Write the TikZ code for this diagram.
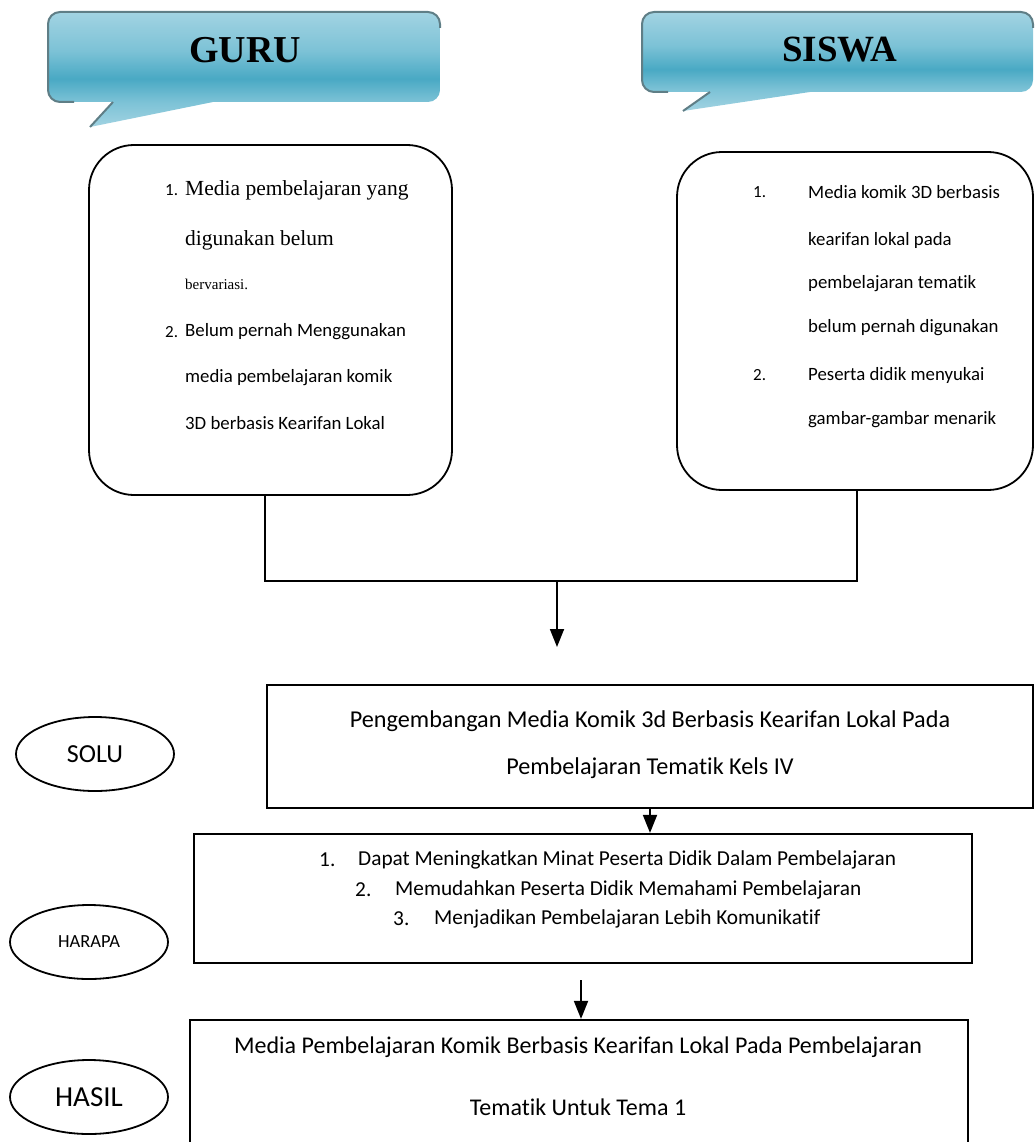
\documentclass[tikz,border=0pt]{standalone}
\usepackage{fontspec}
\setmainfont{Carlito}[Ligatures=NoCommon]
\newfontfamily\tnr{Liberation Serif}
\usetikzlibrary{shapes.geometric,arrows.meta}

\newcommand\fsz[1]{\fontsize{#1}{#1}\selectfont}

\definecolor{bubbletop}{HTML}{A2D3E2}
\definecolor{bubblemid}{HTML}{7CC2D6}
\definecolor{bubbledark}{HTML}{49A9C4}
\definecolor{bubbleedge}{HTML}{5F7E86}
\pgfdeclareverticalshading{bubblefade}{100bp}{color(0bp)=(bubbletop); color(25bp)=(bubbletop); color(36bp)=(bubblemid); color(46bp)=(bubbledark); color(58bp)=(bubblemid); color(75bp)=(bubbletop); color(100bp)=(bubbletop)}

\tikzset{
  bubble/.style={shading=bubblefade},
  bubbleline/.style={draw=bubbleedge, line width=2pt},
  box/.style={draw, line width=2.2pt, rectangle, inner sep=0pt},
  roundbox/.style={box, line width=1.8pt, rounded corners=45pt},
  oval/.style={draw, line width=1.8pt, ellipse, minimum width=158pt, minimum height=74pt, inner sep=0pt},
  link/.style={line width=1.8pt},
  arr/.style={link, -{Triangle[width=14pt,length=18pt]}},
  item/.style={anchor=west, inner sep=0pt, font=\fsz{18.8}},
  line/.style={inner sep=0pt},
}

\begin{document}
\begin{tikzpicture}[x=1pt,y=-1pt]
\useasboundingbox (0,0) rectangle (1035,1142);

% speech bubbles
\shade[bubble] (60,12) -- (428,12) arc[start angle=-90,end angle=0,radius=12] -- (440,90)
  arc[start angle=0,end angle=90,radius=12] -- (213,102) -- (90,127) -- (113,102) -- (60,102)
  arc[start angle=90,end angle=180,radius=12] -- (48,24) arc[start angle=180,end angle=270,radius=12] -- cycle;
\draw[bubbleline] (74,102) -- (60,102) arc[start angle=90,end angle=180,radius=12] -- (48,24)
  arc[start angle=180,end angle=270,radius=12] -- (428,12) arc[start angle=-90,end angle=0,radius=12] -- (440,28);
\draw[bubbleline] (113,102) -- (90,127);
\node[font=\tnr\bfseries\fsz{38}] (guru) at (245,50) {GURU};

\shade[bubble] (654,12) -- (1021,12) arc[start angle=-90,end angle=0,radius=12] -- (1033,80)
  arc[start angle=0,end angle=90,radius=12] -- (810,92) -- (683,111) -- (710,92) -- (654,92)
  arc[start angle=90,end angle=180,radius=12] -- (642,24) arc[start angle=180,end angle=270,radius=12] -- cycle;
\draw[bubbleline] (668,92) -- (654,92) arc[start angle=90,end angle=180,radius=12] -- (642,24)
  arc[start angle=180,end angle=270,radius=12] -- (1021,12) arc[start angle=-90,end angle=0,radius=12] -- (1033,28);
\draw[bubbleline] (710,92) -- (683,111);
\node[font=\tnr\bfseries\fsz{37}] (siswa) at (840,50) {SISWA};

% boxes
\node[roundbox, minimum width=363pt, minimum height=350pt] (guruBox) at (270.5,320) {};
\node[roundbox, minimum width=356pt, minimum height=338pt] (siswaBox) at (855,321) {};
\node[box, minimum width=766pt, minimum height=123pt] (solusiBox) at (650,746.5) {};
\node[box, minimum width=778pt, minimum height=129pt] (harapanBox) at (583,898.5) {};
\node[box, minimum width=778pt, minimum height=150pt] (hasilBox) at (579,1095) {};

% guru list
\node[item, font=\fsz{17}] (g1) at (165,190) {1.};
\node[item, font=\tnr\fsz{21.5}] (g1a) at (185,190) {Media pembelajaran yang};
\node[item, font=\tnr\fsz{21.5}] (g1b) at (185,240) {digunakan belum};
\node[item, font=\tnr\fsz{15}] (g1c) at (185,284) {bervariasi.};
\node[item, font=\fsz{17}] (g2) at (165,332) {2.};
\node[item] (g2a) at (185,332) {Belum pernah Menggunakan};
\node[item] (g2b) at (185,378) {media pembelajaran komik};
\node[item] (g2c) at (185,423) {3D berbasis Kearifan Lokal};

% siswa list
\node[item, font=\fsz{17}] (s1) at (753,192) {1.};
\node[item] (s1a) at (808,192) {Media komik 3D berbasis};
\node[item] (s1b) at (808,240) {kearifan lokal pada};
\node[item] (s1c) at (808,284) {pembelajaran tematik};
\node[item] (s1d) at (808,328) {belum pernah digunakan};
\node[item, font=\fsz{17}] (s2) at (753,375) {2.};
\node[item] (s2a) at (808,375) {Peserta didik menyukai};
\node[item] (s2b) at (808,420) {gambar-gambar menarik};

% solusi
\node[line, font=\fsz{24.2}] (sol1) at (650,721) {Pengembangan Media Komik 3d Berbasis Kearifan Lokal Pada};
\node[line, font=\fsz{24.2}] (sol2) at (650,768) {Pembelajaran Tematik Kels IV};

% harapan
\node[item, font=\fsz{21.3}] (h1) at (319,860) {1.};
\node[item, font=\fsz{21.3}] (h1a) at (358,860) {Dapat Meningkatkan Minat Peserta Didik Dalam Pembelajaran};
\node[item, font=\fsz{21.3}] (h2) at (355,890) {2.};
\node[item, font=\fsz{21.3}] (h2a) at (395,890) {Memudahkan Peserta Didik Memahami Pembelajaran};
\node[item, font=\fsz{21.3}] (h3) at (393,919) {3.};
\node[item, font=\fsz{21.3}] (h3a) at (434,919) {Menjadikan Pembelajaran Lebih Komunikatif};

% hasil
\node[line, font=\fsz{24}] (has1) at (578,1047) {Media Pembelajaran Komik Berbasis Kearifan Lokal Pada Pembelajaran};
\node[line, font=\fsz{24}] (has2) at (578,1107) {Tematik Untuk Tema 1};

% side labels
\node[oval, font=\fsz{26}] (solu) at (95,754) {SOLU};
\node[oval, font=\fsz{18.5}] (harapa) at (89,942) {HARAPA};
\node[oval, font=\fsz{29}] (hasil) at (89,1097) {HASIL};

% connectors
\coordinate (mergeL) at (265,581);
\coordinate (mergeR) at (857,581);
\coordinate (merge) at (557,581);
\coordinate (mergeEnd) at (557,647);
\coordinate (harapOut) at (581,980);
\draw[link] (guruBox.south -| mergeL) -- (mergeL) -- (mergeR) -- (siswaBox.south -| mergeR);
\draw[arr] (merge) -- (mergeEnd);
\draw[arr] (solusiBox.south) -- (solusiBox.south |- harapanBox.north);
\draw[arr] (harapOut) -- (hasilBox.north -| harapOut);
\end{tikzpicture}
\end{document}
